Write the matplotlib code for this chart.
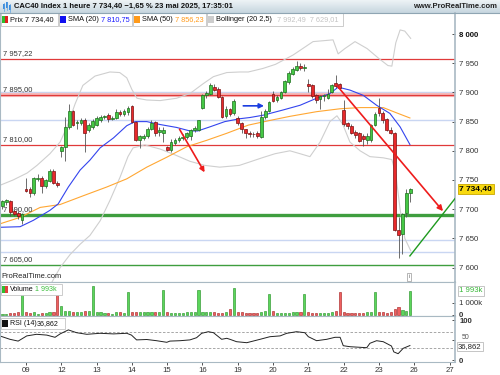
import matplotlib
matplotlib.use('Agg')
import matplotlib.pyplot as plt
import numpy as np
from matplotlib.patches import Rectangle

# hourly bars, position 0 = first bar of 9 May, 9 bars per session
bar_pos = list(range(-6, 99))
bar_open = [7705, 7712, 7714, 7697, 7693, 7681,
            7735, 7735, 7727, 7752, 7753, 7739, 7749, 7766, 7745,
            7800, 7806, 7841, 7868, 7847, 7848, 7853, 7835, 7841,
            7845, 7852, 7858, 7862, 7855, 7857, 7867, 7863, 7866,
            7876, 7849, 7819, 7822, 7825, 7838, 7849, 7833, 7831,
            7806, 7801, 7813, 7818, 7822, 7824, 7826, 7836, 7836,
            7874, 7895, 7898, 7910, 7906, 7892, 7860, 7872, 7864,
            7856, 7847, 7837, 7830, 7829, 7831, 7824, 7858, 7868,
            7898, 7887, 7891, 7901, 7918, 7932, 7938, 7945, 7941,
            7914, 7913, 7896, 7888, 7893, 7890, 7901, 7916, 7914,
            7870, 7847, 7842, 7833, 7830, 7826, 7819, 7818, 7844,
            7874, 7864, 7854, 7835, 7830, 7665, 7657, 7694, 7727]
bar_high = [7716, 7718, 7716, 7700, 7697, 7694,
            7754, 7738, 7755, 7761, 7756, 7752, 7768, 7768, 7748,
            7808, 7858, 7880, 7870, 7852, 7856, 7856, 7848, 7854,
            7860, 7862, 7862, 7864, 7860, 7871, 7870, 7872, 7876,
            7878, 7851, 7827, 7828, 7840, 7852, 7851, 7840, 7840,
            7808, 7820, 7822, 7826, 7828, 7832, 7838, 7842, 7853,
            7897, 7902, 7916, 7914, 7909, 7894, 7876, 7874, 7888,
            7860, 7850, 7838, 7834, 7833, 7834, 7868, 7872, 7885,
            7902, 7896, 7903, 7921, 7936, 7944, 7954, 7950, 7948,
            7923, 7915, 7898, 7895, 7898, 7905, 7914, 7930, 7916,
            7887, 7850, 7846, 7836, 7833, 7828, 7830, 7846, 7866,
            7891, 7868, 7856, 7840, 7832, 7686, 7694, 7735, 7736]
bar_low = [7700, 7708, 7688, 7688, 7684, 7674,
           7730, 7721, 7725, 7748, 7728, 7736, 7747, 7743, 7738,
           7789, 7782, 7838, 7842, 7838, 7845, 7798, 7832, 7838,
           7843, 7850, 7855, 7850, 7852, 7855, 7860, 7860, 7862,
           7847, 7816, 7805, 7818, 7822, 7835, 7826, 7825, 7815,
           7800, 7798, 7810, 7815, 7818, 7820, 7818, 7832, 7834,
           7872, 7890, 7896, 7902, 7890, 7856, 7856, 7860, 7862,
           7845, 7830, 7822, 7824, 7823, 7822, 7822, 7855, 7866,
           7883, 7884, 7888, 7899, 7915, 7930, 7936, 7938, 7936,
           7900, 7890, 7882, 7872, 7886, 7888, 7899, 7908, 7905,
           7843, 7838, 7828, 7822, 7815, 7808, 7812, 7815, 7842,
           7860, 7848, 7834, 7828, 7662, 7617, 7624, 7686, 7713]
bar_close = [7714, 7716, 7695, 7692, 7689, 7692,
             7732, 7727, 7753, 7754, 7739, 7750, 7766, 7745, 7742,
             7806, 7841, 7868, 7844, 7849, 7852, 7830, 7845, 7851,
             7856, 7858, 7860, 7854, 7857, 7867, 7863, 7869, 7874,
             7849, 7818, 7825, 7826, 7838, 7848, 7831, 7835, 7836,
             7801, 7815, 7818, 7822, 7824, 7830, 7836, 7839, 7852,
             7895, 7899, 7912, 7904, 7892, 7858, 7872, 7863, 7885,
             7848, 7837, 7830, 7829, 7828, 7825, 7858, 7869, 7883,
             7886, 7892, 7901, 7919, 7933, 7940, 7945, 7941, 7943,
             7911, 7894, 7887, 7893, 7895, 7897, 7912, 7911, 7908,
             7846, 7843, 7831, 7827, 7817, 7820, 7826, 7844, 7863,
             7864, 7852, 7836, 7830, 7665, 7655, 7692, 7727, 7734.4]
volume_k = [83, 83, 140, 140, 195, 1765,
            195, 140, 195, 83, 110, 110, 195, 195, 1765,
            670, 280, 280, 195, 195, 195, 333, 333, 2375,
            250, 167, 140, 140, 83, 167, 167, 110, 1900,
            250, 195, 167, 167, 167, 195, 195, 167, 2040,
            195, 140, 110, 110, 110, 167, 167, 167, 2040,
            250, 195, 195, 222, 110, 110, 167, 445, 2180,
            250, 167, 110, 110, 110, 110, 195, 305, 1710,
            280, 140, 110, 110, 110, 167, 195, 195, 1710,
            195, 140, 140, 140, 140, 140, 195, 280, 1875,
            250, 140, 140, 140, 140, 140, 167, 222, 1875,
            195, 195, 140, 167, 445, 584, 390, 333, 1993]

# indicator lines (bar position, value)
sma20_x = [-6.6, -1.5, 1.9, 6.1, 8.2, 10.8, 13.8, 16.3, 18.9, 22.3, 25.7, 27.8, 30.8, 34.2, 38.4, 41.8,
           43.8, 46.9, 50.7, 54.6, 57.1, 60.5, 65.6, 69.9, 74.1, 77.5, 79.6, 82.6, 86.0, 89.4, 92.8, 95.4, 97.9]
sma20_y = [7669, 7670, 7681, 7698, 7709, 7738, 7767, 7784, 7805, 7822, 7843, 7850, 7850, 7845, 7840, 7834,
           7834, 7841, 7850, 7855, 7857, 7861, 7870, 7878, 7890, 7898, 7909, 7904, 7895, 7878, 7864, 7841, 7810.75]
sma50_x = [-6.6, -1.5, 3.6, 8.7, 14.6, 20.6, 25.7, 30.8, 35.9, 41.0, 46.1, 51.2, 56.7, 62.2, 67.3, 74.1,
           80.1, 85.2, 91.1, 94.5, 97.9]
sma50_y = [7675, 7686, 7703, 7708, 7723, 7738, 7752, 7772, 7789, 7807, 7818, 7830, 7844, 7852, 7859, 7867,
           7872, 7874, 7874, 7865, 7856.23]
boll_up_x = [-6.6, -3.3, 0.3, 2.8, 6.1, 8.7, 10.4, 12.5, 14.5, 17.6, 21.4, 23.9, 25.7, 27.0, 28.3, 30.8,
             34.2, 38.4, 41.8, 45.2, 47.8, 51.2, 54.6, 56.7, 60.4, 63.6, 68.1, 73.2, 78.3, 79.6, 81.3, 83.9,
             87.0, 90.0, 92.3, 93.3, 94.3, 95.4, 96.6, 98.1]
boll_up_y = [7741, 7750, 7762, 7775, 7795, 7815, 7840, 7880, 7912, 7928, 7935, 7934, 7925, 7905, 7890, 7887,
             7886, 7890, 7898, 7915, 7927, 7934, 7935, 7935, 7941, 7948, 7964, 7987, 7990, 7966, 7975, 7987,
             7975, 7958, 7946, 7945, 7985, 8007, 8005, 7992.49]
boll_lo_x = [6.6, 8.7, 11.2, 13.8, 16.3, 18.9, 21.4, 24.0, 26.0, 27.3, 30.3, 34.2, 38.0, 41.8, 45.6, 49.4,
             54.4, 57.1, 60.2, 63.5, 67.3, 69.9, 72.4, 75.0, 77.5, 79.3, 80.8, 82.6, 85.2, 87.7, 91.1, 93.3,
             94.3, 95.4, 96.6, 98.1]
boll_lo_y = [7575, 7600, 7622, 7640, 7655, 7680, 7715, 7755, 7790, 7805, 7810, 7803, 7793, 7782, 7775, 7772,
             7775, 7781, 7788, 7795, 7800, 7795, 7790, 7815, 7850, 7860, 7845, 7815, 7800, 7790, 7788, 7785,
             7760, 7700, 7650, 7629.01]
rsi_x = [-6.6, -4.1, -2.0, 0.2, 2.7, 5.3, 7.4, 8.7, 10.8, 12.9, 15.5, 18.9, 22.3, 25.7, 26.9, 28.2, 30.8,
         33.3, 35.9, 36.7, 39.3, 41.8, 43.5, 44.8, 46.5, 47.8, 49.9, 51.2, 52.0, 53.7, 56.3, 59.7, 62.2, 64.8,
         66.5, 69.0, 71.1, 72.0, 74.1, 76.7, 78.8, 80.1, 80.9, 82.6, 86.9, 87.7, 89.4, 91.1, 93.2, 93.8, 94.9,
         96.2, 97.9]
rsi_y = [60.7, 52.5, 48, 61, 65, 63, 57.5, 66, 76, 69, 65, 67.5, 66, 67.5, 63, 51, 52,
         49, 45, 48, 49, 51, 56.5, 67.5, 71.5, 69, 52.5, 55, 52.5, 46.5, 44, 52.5, 59, 61,
         67.5, 71.5, 69, 59, 49, 52.5, 57.5, 57.5, 36.5, 34, 31.5, 42.5, 49, 46.5, 35.7, 21, 16.5,
         30, 36.862]

day_ticks = [0, 9, 18, 27, 36, 45, 54, 63, 72, 81, 90, 99, 108]
day_labels = ['09', '12', '13', '14', '15', '16', '19', '20', '21', '22', '23', '26', '27']

# drawn objects on the price panel
red_levels = [7957.22, 7810.0]
pink_level = 7895.0
blue_levels = [7901, 7852.5, 7647, 7627]
green_thick = 7690.0
green_thin = 7605.0
label_levels = [7957.22, 7895.0, 7810.0, 7690.0, 7605.0]
level_labels = ['7 957,22', '7 895,00', '7 810,00', '7 690,00', '7 605,00']
arrow_down = [(38.8, 7841), (45.9, 7759)]
arrow_blue = [(54.7, 7877), (61.4, 7877)]
arrow_big = [(79.0, 7914), (106.8, 7693)]
green_trend = [(97.9, 7620), (109.5, 7719)]

W, H = 500, 375
plt.rcParams['font.family'] = ['Liberation Sans', 'DejaVu Sans']


def rect(x0, y0, x1, y1):
    return [x0 / W, 1 - y1 / H, (x1 - x0) / W, (y1 - y0) / H]


def fx(x):
    return x / W


def fy(y):
    return 1 - y / H


def box(x0, y0, x1, y1, **kw):
    fig.add_artist(Rectangle((fx(x0), fy(y1)), (x1 - x0) / W, (y1 - y0) / H, **kw))


fig = plt.figure(figsize=(5, 3.75), dpi=100)
fig.patch.set_facecolor('white')

GRID = '#a9b9c3'
pos = np.array(bar_pos)
o = np.array(bar_open)
hi = np.array(bar_high)
lo = np.array(bar_low)
c = np.array(bar_close)
up = c >= o

# title bar
tb = fig.add_axes(rect(0, 0, 500, 13))
grad = np.linspace(0, 1, 20).reshape(-1, 1)
tb.imshow(grad, aspect='auto', cmap=matplotlib.colors.LinearSegmentedColormap.from_list(
    'tb', ['#edf3f6', '#c7d6df']), extent=[0, 1, 0, 1])
tb.set_axis_off()
fig.add_artist(plt.Line2D([0, 1], [fy(13), fy(13)], color='#8fa5b3', lw=0.8))
for xx, yb, yt in [(3.5, 9, 4), (6.5, 8, 2.5), (9.5, 10, 5)]:
    fig.add_artist(plt.Line2D([fx(xx), fx(xx)], [fy(yb + 1.5), fy(yt - 1)], color='#5aa0e0', lw=0.5))
    box(xx - 1, yt, xx + 1, yb, color='#3d8ede', lw=0)
fig.text(fx(14), fy(6.5), 'CAC40 Index 1 heure 7 734,40 \u22121,65 % 23 mai 2025, 17:35:01',
         fontsize=5.5, fontweight='bold', va='center', ha='left', color='#111111')
fig.text(fx(497), fy(6.5), 'www.ProRealTime.com', fontsize=5.5, fontweight='bold',
         va='center', ha='right', color='#222222')

# main price panel
ax = fig.add_axes(rect(0, 13, 455, 282))
ax.set_xlim(-6.63, 109.4)
ax.set_ylim(7575.3, 8036)

for lv in blue_levels:
    ax.axhline(lv, color='#c9d6f2', lw=1.0, zorder=1)
ax.axhline(pink_level, color='#f6b9b9', lw=3.0, zorder=1)
for lv in red_levels + [pink_level]:
    ax.axhline(lv, color='#e03a3a', lw=0.9, zorder=2)
ax.axhline(green_thick, color='#3f9e3f', lw=2.4, zorder=2)
ax.axhline(green_thin, color='#3f9e3f', lw=1.0, zorder=2)
for lv, lab in zip(label_levels, level_labels):
    ax.annotate(lab, xy=(0, lv), xycoords=('axes fraction', 'data'), xytext=(2, 1.5),
                textcoords='offset points', fontsize=5.4, color='#333333', va='bottom', ha='left')

ax.plot(boll_up_x, boll_up_y, color='#cfcfcf', lw=0.8, zorder=2)
ax.plot(boll_lo_x, boll_lo_y, color='#cfcfcf', lw=0.8, zorder=2)
ax.plot(sma50_x, sma50_y, color='#ffa733', lw=0.8, zorder=2)
ax.plot(sma20_x, sma20_y, color='#3344ee', lw=0.8, zorder=2)

ax.vlines(pos, lo, hi, color='#555555', lw=0.6, zorder=3)
body_lo = np.minimum(o, c)
body_h = np.maximum(np.abs(c - o), 1.5)
ax.bar(pos, body_h, bottom=body_lo, width=0.7,
       color=np.where(up, '#45c845', '#e8292b'),
       edgecolor=np.where(up, '#1c6e1c', '#7a1010'), lw=0.5, zorder=4)

ax.annotate('', xy=arrow_down[1], xytext=arrow_down[0],
            arrowprops=dict(arrowstyle='-|>', color='#ee1c1c', lw=1.2, mutation_scale=7), zorder=5)
ax.annotate('', xy=arrow_blue[1], xytext=arrow_blue[0],
            arrowprops=dict(arrowstyle='-|>', color='#1c3ee0', lw=1.2, mutation_scale=7), zorder=5)
ax.annotate('', xy=arrow_big[1], xytext=arrow_big[0],
            arrowprops=dict(arrowstyle='-|>', color='#ee1c1c', lw=1.2, mutation_scale=8), zorder=5)
ax.plot([p[0] for p in green_trend], [p[1] for p in green_trend], color='#1f9a1f', lw=1.0, zorder=5)

ax.yaxis.tick_right()
ax.set_yticks(np.arange(7600, 8001, 50))
ax.set_yticklabels(['{:,}'.format(v).replace(',', ' ') for v in range(7600, 8001, 50)])
ax.tick_params(axis='y', direction='in', length=2.5, width=0.6, colors='#333333', labelsize=5.6,
               pad=3, right=True, left=False, labelright=True, labelleft=False)
ax.get_yticklabels()[-1].set_fontweight('bold')
ax.get_yticklabels()[-1].set_color('#111111')
ax.tick_params(axis='x', bottom=False, labelbottom=False)
for s in ax.spines.values():
    s.set_color(GRID)
    s.set_linewidth(0.8)
ax.spines['top'].set_visible(False)
ax.spines['right'].set_linewidth(1.2)

ax.annotate('7 734,40', xy=(1.0, 7734.4), xycoords=('axes fraction', 'data'), xytext=(3, 0),
            textcoords='offset points', fontsize=6.0, fontweight='bold', va='center', ha='left',
            bbox=dict(boxstyle='square,pad=0.2', fc='#f8d90f', ec='#c9a800', lw=0.6), zorder=10,
            annotation_clip=False)
ax.text(0.003, 0.006, 'ProRealTime.com', transform=ax.transAxes, fontsize=5.4, color='#222222',
        va='bottom', ha='left')
fig.text(fx(409), fy(277), 'i', fontsize=4, ha='center', va='center', color='#666666',
         bbox=dict(boxstyle='square,pad=0.25', fc='white', ec='#999999', lw=0.5))

# legend row: (left, right, square colour, name, value, value x, value colour)
legend_items = [
    (0, 58, None, 'Prix 7 734,40', '', 0, '#111111'),
    (58, 132, '#1010f0', 'SMA (20)', '7 810,75', 101, '#1a1aff'),
    (132, 206, '#ff9a1a', 'SMA (50)', '7 856,23', 175, '#ff9a1a'),
    (206, 343, '#cccccc', 'Bollinger (20 2,5)', '7 992,49  7 629,01', 277, '#c4c4c4'),
]
for x0, x1, sq, name, val, vx, vcol in legend_items:
    box(x0 + 0.5, 13.5, x1 - 0.5, 25.5, fc='white', ec='#c4c4c4', lw=0.6)
    if sq is None:
        box(2, 16, 5, 23, color='#2fbf2f', lw=0)
        box(5, 16, 8, 23, color='#e02020', lw=0)
    else:
        box(x0 + 2, 16, x0 + 8, 23, color=sq, lw=0)
    fig.text(fx(x0 + 10), fy(19.5), name, fontsize=5.3, color='#111111', va='center')
    if val:
        fig.text(fx(vx), fy(19.5), val, fontsize=5.3, color=vcol, va='center')

# volume panel
axv = fig.add_axes(rect(0, 282, 455, 315.5))
axv.set_xlim(-6.63, 109.4)
axv.set_ylim(-83, 2708)
axv.bar(pos, volume_k, width=0.55, color=np.where(up, '#5bd65b', '#ef6060'),
        edgecolor=np.where(up, '#1e8c1e', '#a01a1a'), lw=0.4, zorder=3)
axv.yaxis.tick_right()
axv.set_yticks([0, 1000])
axv.set_yticklabels(['0', '1 000k'])
axv.tick_params(axis='y', direction='in', length=2.5, width=0.6, colors='#333333', labelsize=5.6, pad=3)
axv.get_yticklabels()[0].set_fontweight('bold')
axv.tick_params(axis='x', bottom=False, labelbottom=False)
for s in axv.spines.values():
    s.set_color(GRID)
    s.set_linewidth(0.8)
axv.spines['right'].set_linewidth(1.2)
axv.annotate('1 993k', xy=(1.0, 1993), xycoords=('axes fraction', 'data'), xytext=(3, 0),
             textcoords='offset points', fontsize=5.6, color='#38b838', va='center', ha='left',
             bbox=dict(boxstyle='square,pad=0.2', fc='white', ec='#bbbbbb', lw=0.6), annotation_clip=False)
box(0.5, 284, 61.5, 295, fc='white', ec='#c4c4c4', lw=0.6, zorder=5)
box(2, 286, 5, 293, color='#2fbf2f', lw=0, zorder=6)
box(5, 286, 8, 293, color='#e04040', lw=0, zorder=6)
fig.text(fx(10), fy(289.5), 'Volume', fontsize=5.1, color='#111111', va='center', zorder=7)
fig.text(fx(35), fy(289.5), '1 993k', fontsize=5.1, color='#3cbf3c', va='center', zorder=7)

# RSI panel
axr = fig.add_axes(rect(0, 315.5, 455, 362))
axr.set_xlim(-6.63, 109.4)
axr.set_ylim(-4.25, 112)
axr.axhline(70, color='#999999', lw=0.6, ls=(0, (3, 2)))
axr.axhline(30, color='#999999', lw=0.6, ls=(0, (3, 2)))
axr.plot(rsi_x, rsi_y, color='#222222', lw=0.7)
axr.yaxis.tick_right()
axr.set_yticks([0, 50, 100])
axr.set_yticklabels(['0', '', '100'])
axr.tick_params(axis='y', direction='in', length=2.5, width=0.6, colors='#333333', labelsize=5.6, pad=3)
axr.get_yticklabels()[0].set_fontweight('bold')
axr.get_yticklabels()[2].set_fontweight('bold')
axr.annotate('50', xy=(1.0, 50), xycoords=('axes fraction', 'data'), xytext=(4.5, 1.8),
             textcoords='offset points', fontsize=5.0, color='#555555', va='center', ha='left',
             annotation_clip=False)
axr.set_xticks(day_ticks)
axr.set_xticklabels(day_labels)
axr.tick_params(axis='x', direction='out', length=2, width=0.6, colors='#333333', labelsize=5.6, pad=1.5)
for s in axr.spines.values():
    s.set_color(GRID)
    s.set_linewidth(0.8)
axr.spines['right'].set_linewidth(1.2)
axr.annotate('36,862', xy=(1.0, 36.862), xycoords=('axes fraction', 'data'), xytext=(2, -0.5),
             textcoords='offset points', fontsize=5.6, color='#222222', va='center', ha='left',
             bbox=dict(boxstyle='square,pad=0.15', fc='white', ec='#bbbbbb', lw=0.6), annotation_clip=False,
             zorder=10)
box(0.5, 318, 64.5, 329, fc='white', ec='#c4c4c4', lw=0.6, zorder=5)
box(2, 320, 8, 327, color='#111111', lw=0, zorder=6)
fig.text(fx(10), fy(323.5), 'RSI (14)', fontsize=5.1, color='#111111', va='center', zorder=7)
fig.text(fx(37), fy(323.5), '36,862', fontsize=5.1, color='#111111', va='center', zorder=7)

fig.savefig('out.png', dpi=100)
